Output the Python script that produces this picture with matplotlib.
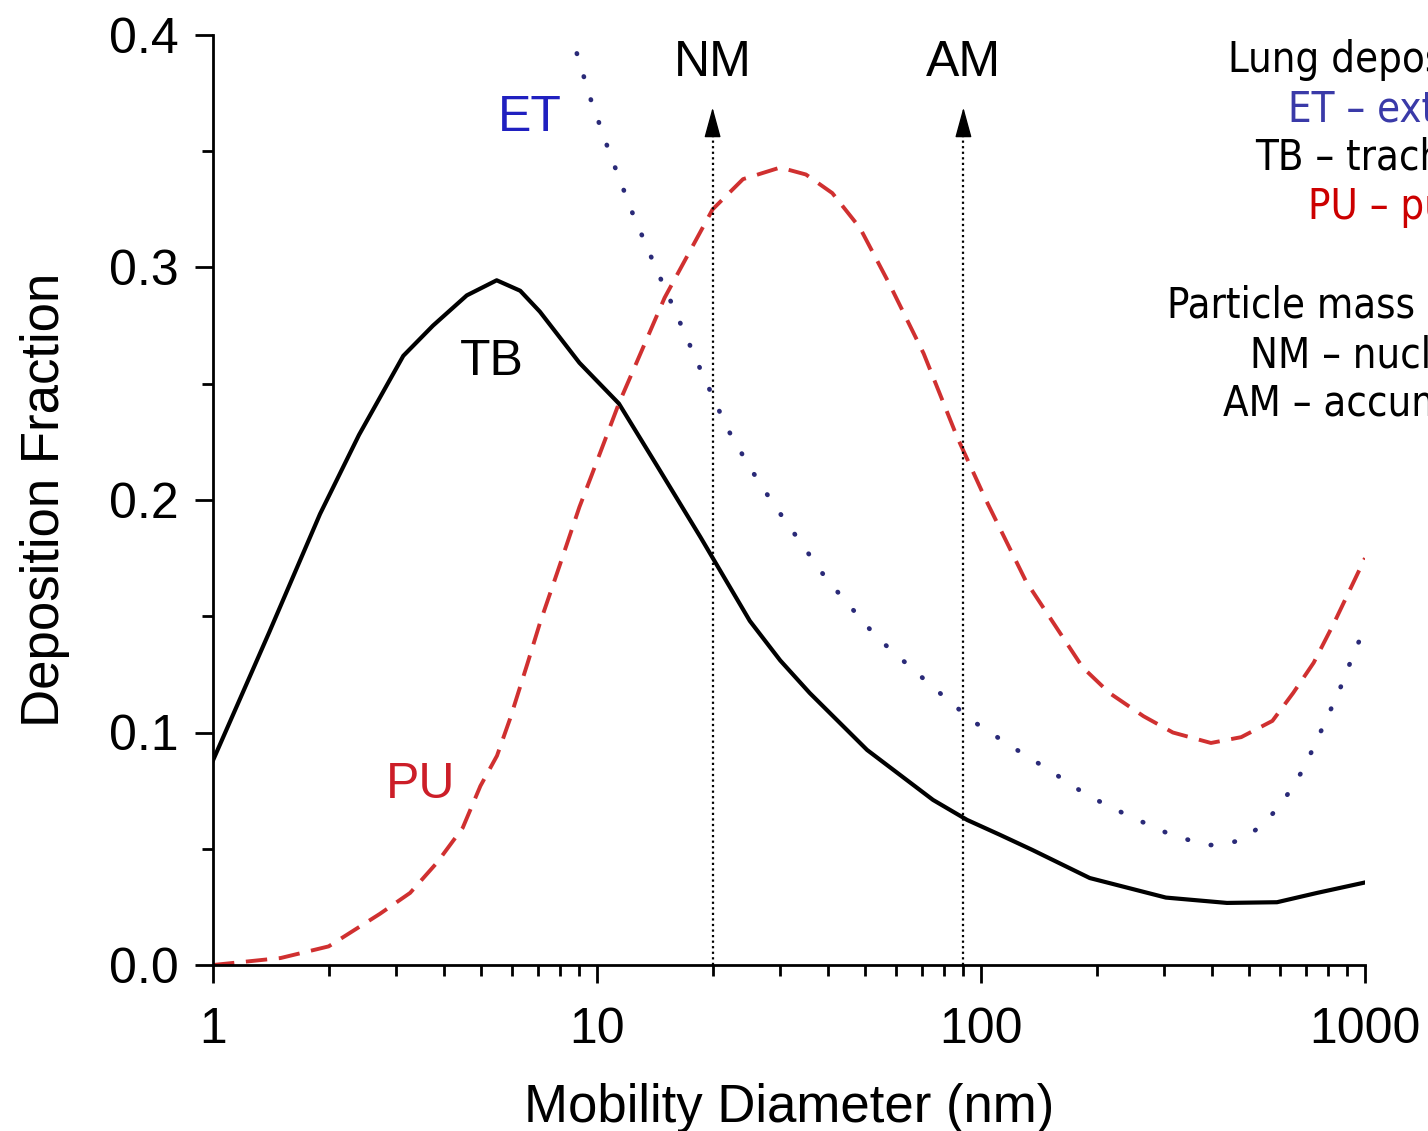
import matplotlib
matplotlib.use("Agg")
import matplotlib.pyplot as plt
from matplotlib.ticker import MultipleLocator, LogLocator, NullFormatter, FixedLocator, FixedFormatter

# diameters (nm) and deposition fractions
tb_d = [1, 1.4, 1.9, 2.4, 3.13, 3.74, 4.58, 5.48, 6.31, 7.1, 9.0, 11.4, 14.3, 18.6,
        25, 30, 35.8, 50.5, 75, 92, 112, 136, 192, 303, 437, 590, 750, 1000]
tb_f = [0.088, 0.143, 0.194, 0.228, 0.262, 0.275, 0.288, 0.2945, 0.29, 0.281, 0.259,
        0.2415, 0.215, 0.184, 0.148, 0.131, 0.117, 0.0925, 0.071, 0.0624, 0.056, 0.0495,
        0.0374, 0.029, 0.0267, 0.027, 0.031, 0.0355]

pu_d = [1, 1.5, 2, 2.72, 3.26, 3.83, 4.47, 4.97, 5.49, 5.94, 6.6, 7.1, 8.0, 9.0, 9.65, 11.4,
        15, 20, 24, 30, 35, 41, 48.4, 57.7, 70.9, 86.7, 103, 131, 184, 216, 265, 316, 397,
        476, 574, 650, 735, 830, 1000]
pu_f = [0.0, 0.003, 0.008, 0.022, 0.031, 0.044, 0.059, 0.077, 0.09, 0.106, 0.13, 0.147,
        0.172, 0.197, 0.21, 0.2415, 0.287, 0.325, 0.338, 0.343, 0.34, 0.332, 0.317, 0.293,
        0.263, 0.227, 0.2, 0.165, 0.128, 0.117, 0.107, 0.1, 0.0955, 0.098, 0.105, 0.117,
        0.13, 0.147, 0.175]

et_d = [8.5, 9.6, 10.8, 12.4, 14.3, 15.8, 18.5, 21.8, 25, 28.6, 39.6, 53.5, 75.6, 95, 120,
        150, 189, 240, 303, 381, 425, 480, 538, 597, 648, 695, 770, 857, 940, 1000]
et_f = [0.402, 0.373, 0.349, 0.323, 0.299, 0.283, 0.257, 0.231, 0.214, 0.199, 0.166, 0.141,
        0.119, 0.105, 0.094, 0.084, 0.073, 0.0645, 0.057, 0.0516, 0.0516, 0.054, 0.06, 0.068,
        0.0766, 0.085, 0.101, 0.118, 0.135, 0.145]

modes = ["NM", "AM"]
mode_d = [20, 90]

legend_lines = [("Lung deposition regions:", "black", 1228, 60),
                ("ET \u2013 extrathoracic", "#3a3aa8", 1288, 110),
                ("TB \u2013 tracheobronchial", "black", 1255, 158),
                ("PU \u2013 pulmonary", "#cc0000", 1308, 207),
                ("Particle mass modes:", "black", 1167, 305),
                ("NM \u2013 nucleation mode", "black", 1250, 355),
                ("AM \u2013 accumulation mode", "black", 1223, 403)]

plt.rcParams['font.family'] = ['Liberation Sans', 'DejaVu Sans']

W, H = 1428, 1131
fig = plt.figure(figsize=(W / 100, H / 100), dpi=100)
ax = fig.add_axes([213 / W, 1 - 965 / H, (1365 - 213) / W, (965 - 35) / H])

ax.plot(tb_d, tb_f, color='black', lw=3, solid_joinstyle='round')
ax.plot(pu_d, pu_f, color='#d03030', lw=2.8, ls=(0, (5.5, 3)))
ax.plot(et_d, et_f, color='#2a2a78', lw=3.4, ls=(0, (0.1, 5)), dash_capstyle='round')

for name, d in zip(modes, mode_d):
    ax.plot([d, d], [0, 0.358], color='black', lw=1.6, ls=(0, (1, 1.5)))
    ax.annotate('', xy=(d, 0.3688), xytext=(d, 0.357),
                arrowprops=dict(arrowstyle='-|>,head_length=0.95,head_width=0.26',
                                mutation_scale=20, color='black', lw=1.0,
                                shrinkA=0, shrinkB=0))
    ax.text(d, 0.388, name, ha='center', va='center', fontsize=36)

ax.text(6.69, 0.3643, "ET", color='#2020c0', fontsize=36, ha='center', va='center')
ax.text(5.33, 0.2594, "TB", color='black', fontsize=36, ha='center', va='center')
ax.text(3.48, 0.0774, "PU", color='#cc1e28', fontsize=36, ha='center', va='center')

ax.set_xscale('log')
ax.set_xlim(1, 1000)
ax.set_ylim(0, 0.4)
ax.xaxis.set_major_locator(FixedLocator([1, 10, 100, 1000]))
ax.xaxis.set_major_formatter(FixedFormatter(['1', '10', '100', '1000']))
ax.xaxis.set_minor_locator(LogLocator(base=10, subs=range(2, 10)))
ax.xaxis.set_minor_formatter(NullFormatter())
ax.yaxis.set_major_locator(MultipleLocator(0.1))
ax.yaxis.set_minor_locator(MultipleLocator(0.05))
ax.yaxis.set_major_formatter(plt.FuncFormatter(lambda v, p: "%.1f" % v))

for s in ['top', 'right']:
    ax.spines[s].set_visible(False)
for s in ['left', 'bottom']:
    ax.spines[s].set_linewidth(2)
ax.tick_params(which='major', direction='out', length=13, width=2, labelsize=36)
ax.tick_params(axis='y', which='major', pad=12)
ax.tick_params(axis='x', which='major', pad=17)
ax.tick_params(which='minor', direction='out', length=8, width=2)

ax.set_xlabel("Mobility Diameter (nm)", fontsize=38, labelpad=22)
ax.set_ylabel("Deposition Fraction", fontsize=38, labelpad=28)

for txt, col, px, py in legend_lines:
    fig.text(px / W, 1 - py / H, txt, color=col, fontsize=30, ha='left', va='center',
             family=['DejaVu Sans'], stretch='condensed')

fig.savefig("out.png", dpi=100)
